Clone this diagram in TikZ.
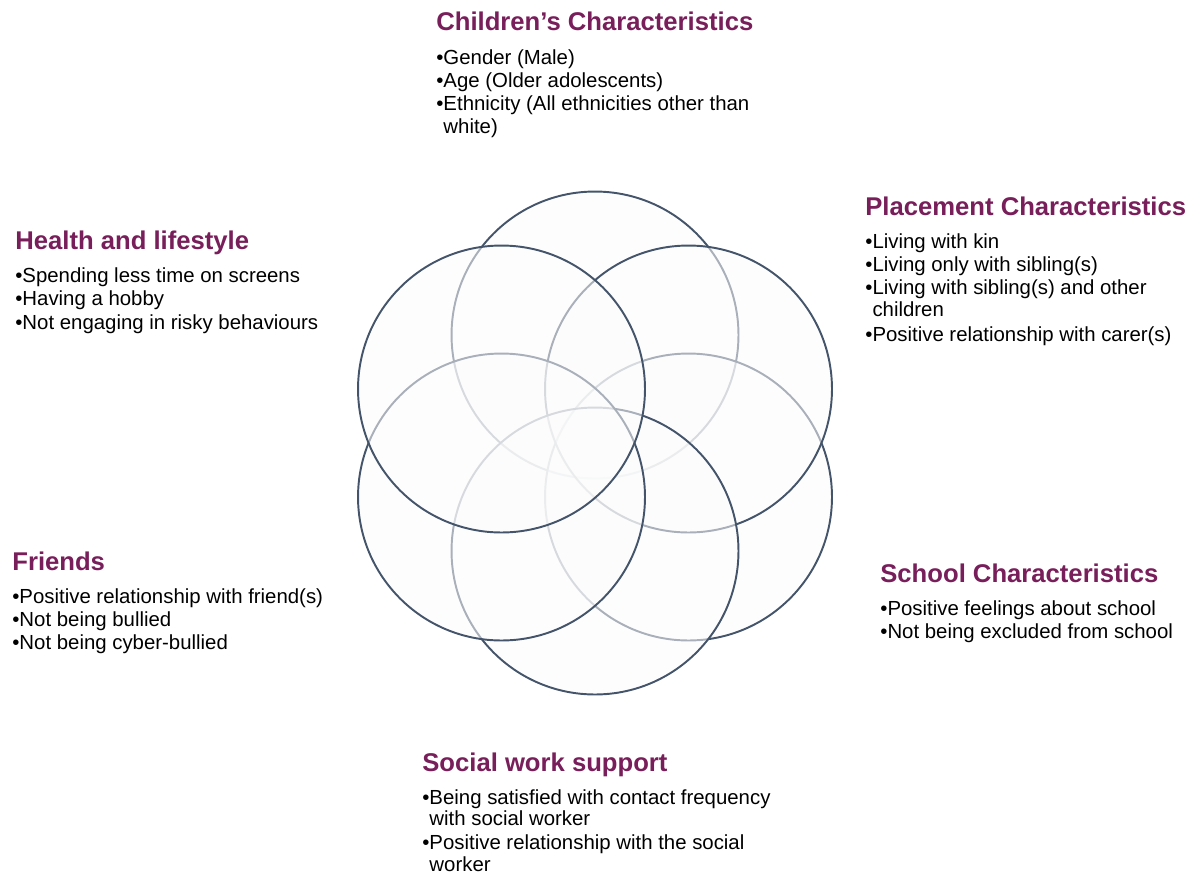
\documentclass[tikz,border=0pt]{standalone}
\usepackage{fontspec}
\setmainfont{Liberation Sans}
\usetikzlibrary{positioning}
\usepackage{xcolor}

\definecolor{slate}{HTML}{44546A}
\definecolor{plum}{HTML}{781E5A}

% bullet line and its wrapped continuation
\newcommand{\bitem}[1]{\strut\textbullet#1}
\newcommand{\bcont}[1]{\strut\hphantom{\textbullet}#1}

\begin{document}
\begin{tikzpicture}[x=0.02cm, y=-0.02cm,
  petal/.style={circle, minimum size=5.74cm, inner sep=0pt, draw=slate, line width=1.1pt, fill=black!1, fill opacity=0.55},
  heading/.style={anchor=base west, inner sep=0pt, text=plum, font=\fontsize{14.6}{17}\selectfont\bfseries},
  body/.style={inner sep=0pt, align=left, font=\fontsize{11.6}{13.2}\selectfont}]

  \useasboundingbox (0,0) rectangle (1192,873);

  % Six overlapping circles, lowest layer first
  \node (children) [petal] at (595,335) {};
  \node (school) [petal] at (688.5,497) {};
  \node (placement) [petal] at (688.5,389) {};
  \node (social) [petal] at (595,551) {};
  \node (friends) [petal] at (501.5,497) {};
  \node (health) [petal] at (501.5,389) {};

  % Top
  \node (chead) [heading] at (436,30.7) {Children’s Characteristics};
  \node (cbody) [body, below=9.6pt of chead.base west, anchor=north west]
    {\bitem{Gender (Male)}\\
     \bitem{Age (Older adolescents)}\\
     \bitem{Ethnicity (All ethnicities other than}\\
     \bcont{white)}};

  % Right, upper
  \node (phead) [heading] at (865,215) {Placement Characteristics};
  \node (pbody) [body, below=9.6pt of phead.base west, anchor=north west]
    {\bitem{Living with kin}\\
     \bitem{Living only with sibling(s)}\\
     \bitem{Living with sibling(s) and other}\\[-0.6pt]
     \bcont{children}\\[0.8pt]
     \bitem{Positive relationship with carer(s)}};

  % Left, upper
  \node (hhead) [heading] at (15,249.3) {Health and lifestyle};
  \node (hbody) [body, below=9.6pt of hhead.base west, anchor=north west]
    {\bitem{Spending less time on screens}\\
     \bitem{Having a hobby}\\
     \bitem{Not engaging in risky behaviours}};

  % Left, lower
  \node (fhead) [heading] at (12,570) {Friends};
  \node (fbody) [body, below=9.6pt of fhead.base west, anchor=north west]
    {\bitem{Positive relationship with friend(s)}\\
     \bitem{Not being bullied}\\
     \bitem{Not being cyber-bullied}};

  % Right, lower
  \node (shead) [heading] at (880,582.3) {School Characteristics};
  \node (sbody) [body, below=9.6pt of shead.base west, anchor=north west]
    {\bitem{Positive feelings about school}\\
     \bitem{Not being excluded from school}};

  % Bottom
  \node (whead) [heading] at (422,771.7) {Social work support};
  \node (wbody) [body, below=9pt of whead.base west, anchor=north west]
    {\bitem{Being satisfied with contact frequency}\\[-1pt]
     \bcont{with social worker}\\[0.6pt]
     \bitem{Positive relationship with the social}\\[-1pt]
     \bcont{worker}};

\end{tikzpicture}
\end{document}
